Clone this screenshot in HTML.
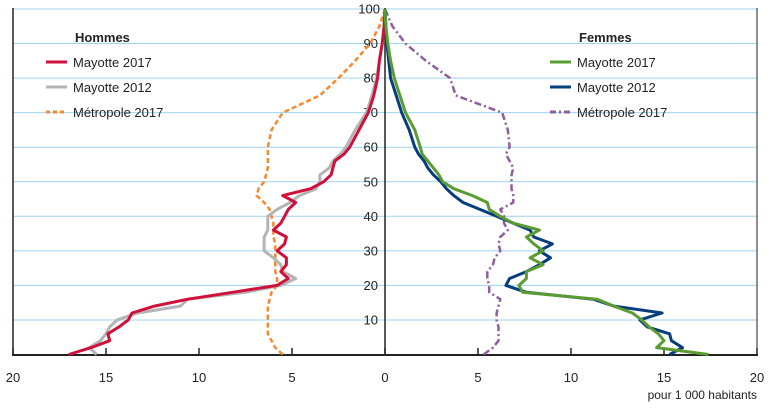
<!DOCTYPE html>
<html><head><meta charset="utf-8"><style>
body{margin:0;background:#fff;}
svg{display:block;font-family:"Liberation Sans Narrow","Liberation Sans",sans-serif;}
</style></head><body>
<svg id="chart" width="771" height="408" viewBox="0 0 771 408"></svg>
<script>
const ages=[0,2,4,6,8,10,12,14,16,18,20,22,24,26,28,30,32,34,36,38,40,42,44,46,48,50,52,54,56,58,60,65,70,75,80,85,90,95,100];
const hommesMayotte2017=[17.0,15.8,14.8,14.9,14.3,13.8,13.6,12.4,10.6,8.2,5.8,5.2,5.6,5.3,5.3,5.8,5.4,5.3,6.0,5.6,5.4,5.2,4.8,5.5,4.0,3.3,2.9,2.8,2.7,2.2,1.9,1.4,0.9,0.6,0.4,0.3,0.15,0.05,0];
const hommesMayotte2012=[15.5,15.9,15.3,15.0,14.8,14.4,13.3,11.0,10.6,7.5,5.6,4.8,5.5,5.6,6.0,6.5,6.5,6.5,6.3,6.3,6.3,5.8,5.1,4.6,3.7,3.5,3.5,3.0,2.8,2.4,2.1,1.6,1.0,0.7,0.45,0.3,0.15,0.05,0];
const hommesMetropole2017=[5.5,5.9,6.1,6.3,6.3,6.3,6.3,6.3,6.2,6.1,5.8,5.8,5.9,5.9,5.9,5.9,5.9,6.0,6.0,6.0,6.1,6.2,6.5,6.9,6.8,6.5,6.4,6.3,6.3,6.3,6.3,6.1,5.5,3.5,2.5,1.6,0.8,0.3,0];
const femmesMayotte2017=[17.4,14.6,15.0,14.7,14.2,13.8,13.3,12.3,11.4,7.4,7.2,7.6,7.6,8.5,7.8,8.5,8.0,7.6,8.3,6.9,6.2,5.6,5.5,4.7,3.7,3.1,2.9,2.6,2.3,2.0,1.9,1.6,1.1,0.8,0.5,0.3,0.15,0.05,0];
const femmesMayotte2012=[15.3,16.0,15.4,15.3,14.1,13.7,14.9,12.3,11.2,7.6,6.5,6.7,7.6,8.3,8.9,8.3,9.0,8.0,7.8,6.9,6.0,5.1,4.2,3.7,3.3,3.0,2.6,2.3,2.1,1.8,1.6,1.3,0.9,0.6,0.3,0.2,0.1,0.05,0];
const femmesMetropole2017=[5.3,5.8,6.1,6.1,6.1,6.0,6.0,6.1,6.2,5.6,5.6,5.5,5.5,5.8,5.9,6.2,6.1,6.2,6.6,6.4,6.4,6.2,6.9,6.9,6.8,6.8,6.8,6.9,6.7,6.5,6.7,6.6,6.3,3.8,3.5,2.2,1.1,0.4,0];
const xTicks=[20,15,10,5,0,5,10,15,20];
const yTicks=[10,20,30,40,50,60,70,80,90,100];

const NS='http://www.w3.org/2000/svg';
const svg=document.getElementById('chart');
const cx=385,unit=18.6,y0=354.5,yUnit=3.455;
function xL(v){return cx-v*unit;}
function xR(v){return cx+v*unit;}
function yA(a){return y0-a*yUnit;}
function mk(t,attrs,parent){const e=document.createElementNS(NS,t);for(const k in attrs)e.setAttribute(k,attrs[k]);(parent||svg).appendChild(e);return e;}

// grid
yTicks.forEach(t=>{
  const g=mk('line',{x1:13,x2:757,y1:yA(t),y2:yA(t),stroke:'#9fd3ef','stroke-width':1});
  
  
  const l=mk('text',{x:t===100?380:378,y:yA(t)+4.5,'text-anchor':'end','font-size':13,fill:'#222'});
  l.textContent=t;
  
  
});
// axes
const ax1=mk('line',{x1:13,x2:13,y1:8,y2:355,stroke:'#222','stroke-width':1.5});


const ax2=mk('line',{x1:757,x2:757,y1:8,y2:355,stroke:'#222','stroke-width':1});


const ax3=mk('line',{x1:12,x2:758,y1:355,y2:355,stroke:'#222','stroke-width':2});


const ax4=mk('line',{x1:cx,x2:cx,y1:8,y2:355,stroke:'#222','stroke-width':1.5});


xTicks.forEach((t,i)=>{
  const x=i<4?xL(t):xR(t);
  const tk=mk('line',{x1:x,x2:x,y1:348,y2:355,stroke:'#222','stroke-width':1.5});
  
  
  const l=mk('text',{x:x,y:382,'text-anchor':'middle','font-size':13,fill:'#222'});
  l.textContent=t;
  
  
});
const unitL=mk('text',{x:757,y:399,'text-anchor':'end','font-size':12,fill:'#222'});
unitL.textContent='pour 1 000 habitants';



function series(vals,side,color,dash,name){
  const pts=vals.map((v,i)=>(side<0?xL(v):xR(v)).toFixed(1)+','+yA(ages[i]).toFixed(1)).join(' ');
  const p=mk('polyline',{points:pts,fill:'none',stroke:color,'stroke-width':dash?2.5:3,'stroke-linejoin':'round','stroke-dasharray':dash||'none'});
  
  
}
series(hommesMetropole2017,-1,'#f6892f','5,3','hommes-metropole-2017-line');
series(femmesMetropole2017,1,'#8e5e9e','7,3,2,3','femmes-metropole-2017-line');
series(hommesMayotte2012,-1,'#b4b4b4',null,'hommes-mayotte-2012-line');
series(hommesMayotte2017,-1,'#d0103a',null,'hommes-mayotte-2017-line');
series(femmesMayotte2012,1,'#063d7c',null,'femmes-mayotte-2012-line');
series(femmesMayotte2017,1,'#5a9c32',null,'femmes-mayotte-2017-line');

function legend(x,title,items,side){
  const t=mk('text',{x:x+29,y:42,'font-size':13,'font-weight':'bold',fill:'#222'});
  t.textContent=title;
  
  
  items.forEach((it,i)=>{
    const y=62+i*25;
    const l=mk('line',{x1:x,x2:x+21,y1:y,y2:y,stroke:it[1],'stroke-width':3,'stroke-dasharray':it[2]||'none'});
    
    
    const tx=mk('text',{x:x+27,y:y+5,'font-size':13,fill:'#222'});
    tx.textContent=it[0];
    
    
  });
}
legend(46,'Hommes',[['Mayotte 2017','#d0103a'],['Mayotte 2012','#b4b4b4'],['Métropole 2017','#f6892f','4,3']],'hommes');
legend(550,'Femmes',[['Mayotte 2017','#5a9c32'],['Mayotte 2012','#063d7c'],['Métropole 2017','#8e5e9e','6,3,2,3']],'femmes');
</script>
</body></html>
